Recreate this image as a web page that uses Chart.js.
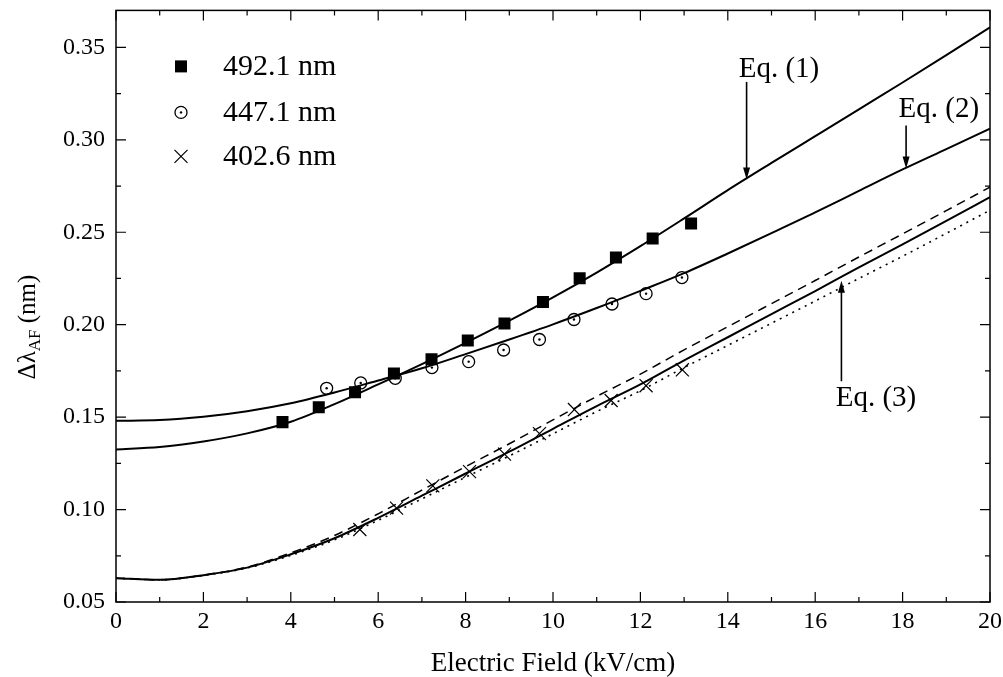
<!DOCTYPE html>
<html>
<head>
<meta charset="utf-8">
<script src="https://cdn.jsdelivr.net/npm/chart.js@4.4.0/dist/chart.umd.min.js"></script>
<style>
  html, body { margin: 0; padding: 0; background: #fff; }
  #wrap { width: 1003px; height: 677px; }
</style>
</head>
<body>
<div id="wrap"><canvas id="graphe" width="1003" height="677"></canvas></div>
<script>
// Grille du champ électrique pour les courbes calculées (kV/cm)
const fieldGrid = [0, 1, 2, 3, 4, 5, 6, 7, 8, 9, 10, 11, 12, 13, 14, 15, 16, 17, 18, 19, 20];

// Courbes (nm)
const eq1Curve = [0.1325, 0.1338, 0.1368, 0.1412, 0.1475, 0.1570, 0.1677, 0.1787, 0.1902, 0.2022, 0.2148,
                  0.2282, 0.2425, 0.2575, 0.2728, 0.2875, 0.3020, 0.3165, 0.3310, 0.3458, 0.3608];
const eq2Curve = [0.1480, 0.1484, 0.1502, 0.1532, 0.1575, 0.1633, 0.1698, 0.1764, 0.1841, 0.1920, 0.2002,
                  0.2090, 0.2183, 0.2279, 0.2385, 0.2495, 0.2607, 0.2724, 0.2840, 0.2950, 0.3060];
const eq3Solid  = [0.0629, 0.0620, 0.0645, 0.0686, 0.0758, 0.0845, 0.0955, 0.1075, 0.1195, 0.1313, 0.1437,
                   0.1560, 0.1677, 0.1807, 0.1932, 0.2057, 0.2182, 0.2310, 0.2435, 0.2562, 0.2690];
const eq3Dashed = [0.0629, 0.0620, 0.0646, 0.0689, 0.0766, 0.0860, 0.0977, 0.1105, 0.1232, 0.1356, 0.1485,
                   0.1612, 0.1733, 0.1864, 0.1989, 0.2114, 0.2239, 0.2366, 0.2491, 0.2617, 0.2744];
const eq3Dotted = [0.0629, 0.0620, 0.0644, 0.0684, 0.0752, 0.0836, 0.0942, 0.1058, 0.1175, 0.1290, 0.1410,
                   0.1530, 0.1643, 0.1768, 0.1888, 0.2008, 0.2128, 0.2250, 0.2370, 0.2494, 0.2619];

// Mesures
const x492 = [3.81, 4.64, 5.47, 6.36, 7.22, 8.05, 8.89, 9.77, 10.61, 11.44, 12.28, 13.16];
const y492 = [0.1473, 0.1554, 0.1634, 0.1736, 0.1813, 0.1915, 0.2007, 0.2123, 0.2251, 0.2363, 0.2466, 0.2547];
const x447 = [4.82, 5.60, 6.39, 7.23, 8.07, 8.87, 9.69, 10.48, 11.35, 12.13, 12.95];
const y447 = [0.1656, 0.1685, 0.1710, 0.1768, 0.1800, 0.1863, 0.1920, 0.2028, 0.2112, 0.2168, 0.2255];
const x402 = [5.58, 6.42, 7.25, 8.09, 8.89, 9.69, 10.49, 11.33, 12.13, 12.96];
const y402 = [0.0892, 0.1008, 0.1128, 0.1205, 0.1300, 0.1411, 0.1541, 0.1590, 0.1670, 0.1756];

const seriesLabels = ['492.1 nm', '447.1 nm', '402.6 nm'];

// Graduations
const xMajorTicks = [0, 2, 4, 6, 8, 10, 12, 14, 16, 18, 20];
const xMinorTicks = [1, 3, 5, 7, 9, 11, 13, 15, 17, 19];
const yMajorTicks = [0.05, 0.10, 0.15, 0.20, 0.25, 0.30, 0.35];
const yMinorTicks = [0.075, 0.125, 0.175, 0.225, 0.275, 0.325];

const SERIF = "'Liberation Serif', 'Times New Roman', serif";

function pairs(xs, ys) {
    return xs.map((x, i) => ({ x: x, y: ys[i] }));
}

function curve(ys, dash, width) {
    return {
        data: pairs(fieldGrid, ys),
        showLine: true,
        borderColor: '#000',
        borderWidth: width,
        borderDash: dash,
        pointRadius: 0,
        cubicInterpolationMode: 'monotone',
        fill: false,
    };
}

// Flèches et étiquettes "Eq. (n)" (coordonnées en unités des axes)
const eqNotes = [
    { text: 'Eq. (1)', tx: 15.17, ty: 0.3383, ax: 14.43, from: 0.3313, to: 0.2786 },
    { text: 'Eq. (2)', tx: 18.83, ty: 0.3163, ax: 18.08, from: 0.3077, to: 0.2845 },
    { text: 'Eq. (3)', tx: 17.39, ty: 0.1603, ax: 16.60, from: 0.1694, to: 0.2237 },
];

// Cadre avec graduations vers l'intérieur sur les 4 côtés
const cadrePlugin = {
    id: 'cadre',
    afterDatasetsDraw(chart) {
        const ctx = chart.ctx;
        const a = chart.chartArea;
        const xs = chart.scales.x, ys = chart.scales.y;
        ctx.save();
        ctx.strokeStyle = '#000';
        ctx.lineWidth = 1.5;
        ctx.strokeRect(a.left, a.top, a.right - a.left, a.bottom - a.top);
        ctx.lineWidth = 1.2;
        ctx.beginPath();
        const tickX = (v, len) => {
            const p = xs.getPixelForValue(v);
            ctx.moveTo(p, a.bottom); ctx.lineTo(p, a.bottom - len);
            ctx.moveTo(p, a.top); ctx.lineTo(p, a.top + len);
        };
        const tickY = (v, len) => {
            const p = ys.getPixelForValue(v);
            ctx.moveTo(a.left, p); ctx.lineTo(a.left + len, p);
            ctx.moveTo(a.right, p); ctx.lineTo(a.right - len, p);
        };
        xMajorTicks.forEach(v => tickX(v, 10));
        xMinorTicks.forEach(v => tickX(v, 5));
        yMajorTicks.forEach(v => tickY(v, 10));
        yMinorTicks.forEach(v => tickY(v, 5));
        ctx.stroke();
        ctx.restore();
    }
};

const notesPlugin = {
    id: 'notes',
    afterDatasetsDraw(chart) {
        const ctx = chart.ctx;
        const xs = chart.scales.x, ys = chart.scales.y;
        ctx.save();
        ctx.fillStyle = '#000';
        ctx.strokeStyle = '#000';
        ctx.font = '29px ' + SERIF;
        ctx.textAlign = 'center';
        ctx.textBaseline = 'middle';
        eqNotes.forEach(n => {
            ctx.fillText(n.text, xs.getPixelForValue(n.tx), ys.getPixelForValue(n.ty));
            const px = xs.getPixelForValue(n.ax);
            const y0 = ys.getPixelForValue(n.from);
            const y1 = ys.getPixelForValue(n.to);
            const dir = y1 > y0 ? 1 : -1;
            ctx.lineWidth = 1.6;
            ctx.beginPath();
            ctx.moveTo(px, y0);
            ctx.lineTo(px, y1 - dir * 8);
            ctx.stroke();
            ctx.beginPath();
            ctx.moveTo(px, y1);
            ctx.lineTo(px - 3.5, y1 - dir * 12);
            ctx.lineTo(px + 3.5, y1 - dir * 12);
            ctx.closePath();
            ctx.fill();
        });
        ctx.restore();
    }
};

// Légende dessinée à la main dans la zone du graphique
const legendePlugin = {
    id: 'legende',
    afterDatasetsDraw(chart) {
        const ctx = chart.ctx;
        const a = chart.chartArea;
        const mx = a.left + 65, tx = a.left + 107;
        const rows = [a.top + 56, a.top + 102, a.top + 146];
        ctx.save();
        ctx.fillStyle = '#000';
        ctx.strokeStyle = '#000';
        // carré plein
        ctx.fillRect(mx - 6, rows[0] - 6, 12, 12);
        // cercle pointé
        ctx.lineWidth = 1.3;
        ctx.beginPath(); ctx.arc(mx, rows[1], 6, 0, Math.PI * 2); ctx.stroke();
        ctx.beginPath(); ctx.arc(mx, rows[1], 1.2, 0, Math.PI * 2); ctx.fill();
        // croix
        ctx.lineWidth = 1.2;
        ctx.beginPath();
        ctx.moveTo(mx - 6.5, rows[2] - 6.5); ctx.lineTo(mx + 6.5, rows[2] + 6.5);
        ctx.moveTo(mx - 6.5, rows[2] + 6.5); ctx.lineTo(mx + 6.5, rows[2] - 6.5);
        ctx.stroke();
        ctx.font = '30px ' + SERIF;
        ctx.textAlign = 'left';
        ctx.textBaseline = 'middle';
        seriesLabels.forEach((lab, i) => ctx.fillText(lab, tx, rows[i] + 1));
        ctx.restore();
    }
};

// Titre de l'axe Y avec indice "AF"
const titreYPlugin = {
    id: 'titreY',
    afterDraw(chart) {
        const ctx = chart.ctx;
        const cx = 35, cy = 327;
        const main = '25px ' + SERIF, sub = '17px ' + SERIF;
        ctx.save();
        ctx.fillStyle = '#000';
        ctx.translate(cx, cy);
        ctx.rotate(-Math.PI / 2);
        ctx.textBaseline = 'alphabetic';
        ctx.textAlign = 'left';
        ctx.font = main;
        const w1 = ctx.measureText('\u0394\u03bb').width;
        const w3 = ctx.measureText(' (nm)').width;
        ctx.font = sub;
        const w2 = ctx.measureText('AF').width;
        let x = -(w1 + w2 + w3) / 2;
        ctx.font = main;
        ctx.fillText('\u0394\u03bb', x, 0);
        x += w1;
        ctx.font = sub;
        ctx.fillText('AF', x, 5);
        x += w2;
        ctx.font = main;
        ctx.fillText(' (nm)', x, 0);
        ctx.restore();
    }
};

const ctx = document.getElementById('graphe').getContext('2d');
const chart = new Chart(ctx, {
    type: 'scatter',
    data: {
        datasets: [
            {
                label: seriesLabels[0],
                data: pairs(x492, y492),
                pointStyle: 'rect',
                pointRadius: 8.5,
                backgroundColor: '#000',
                borderColor: '#000',
                borderWidth: 0,
            },
            {
                label: seriesLabels[1] + ' centre',
                data: pairs(x447, y447),
                pointStyle: 'circle',
                pointRadius: 1.2,
                backgroundColor: '#000',
                borderColor: '#000',
                borderWidth: 0,
            },
            {
                label: seriesLabels[1],
                data: pairs(x447, y447),
                pointStyle: 'circle',
                pointRadius: 6,
                backgroundColor: 'rgba(255,255,255,0)',
                borderColor: '#000',
                borderWidth: 1.3,
            },
            {
                label: seriesLabels[2],
                data: pairs(x402, y402),
                pointStyle: 'crossRot',
                pointRadius: 9.2,
                borderColor: '#000',
                borderWidth: 1.2,
            },
            curve(eq1Curve, [], 2),
            curve(eq2Curve, [], 2),
            curve(eq3Solid, [], 2),
            curve(eq3Dashed, [9, 6], 1.5),
            curve(eq3Dotted, [2, 5], 1.6),
        ]
    },
    options: {
        responsive: false,
        animation: false,
        devicePixelRatio: 1,
        layout: { padding: { top: 7, right: 13, left: 0, bottom: 0 } },
        plugins: {
            legend: { display: false },
            tooltip: { enabled: false },
        },
        scales: {
            x: {
                type: 'linear',
                position: 'bottom',
                min: 0,
                max: 20,
                grid: { display: false, drawTicks: false },
                border: { display: false },
                afterBuildTicks: scale => { scale.ticks = xMajorTicks.map(v => ({ value: v })); },
                afterFit: scale => {
                    scale.height = 75;
                    scale.paddingLeft = 0;
                    scale.paddingRight = 0;
                },
                ticks: {
                    color: '#000',
                    padding: 5,
                    maxRotation: 0,
                    font: { family: SERIF, size: 24 },
                    callback: v => String(v),
                },
                title: {
                    display: true,
                    text: 'Electric Field (kV/cm)',
                    color: '#000',
                    font: { family: SERIF, size: 27, lineHeight: 1 },
                    padding: 0,
                },
            },
            y: {
                type: 'linear',
                min: 0.05,
                max: 0.37,
                grid: { display: false, drawTicks: false },
                border: { display: false },
                afterBuildTicks: scale => { scale.ticks = yMajorTicks.map(v => ({ value: v })); },
                afterFit: scale => {
                    scale.width = 116;
                    scale.paddingTop = 0;
                    scale.paddingBottom = 0;
                },
                ticks: {
                    color: '#000',
                    padding: 11,
                    font: { family: SERIF, size: 24 },
                    callback: v => Number(v).toFixed(2),
                },
            },
        },
    },
    plugins: [cadrePlugin, notesPlugin, legendePlugin, titreYPlugin],
});
</script>
</body>
</html>
